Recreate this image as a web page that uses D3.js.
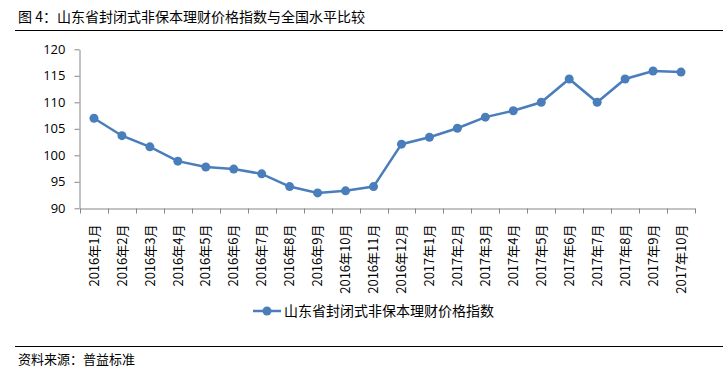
<!DOCTYPE html>
<html><head><meta charset="utf-8">
<script src="https://cdn.jsdelivr.net/npm/d3@7"></script>
<style>
html,body{margin:0;padding:0;background:#fff;}
svg{display:block;}
</style></head>
<body>
<svg id="c" width="728" height="372"></svg>
<script>
const title = "图 4：山东省封闭式非保本理财价格指数与全国水平比较";
const source = "资料来源：普益标准";
const seriesName = "山东省封闭式非保本理财价格指数";
const categories = ["2016年1月","2016年2月","2016年3月","2016年4月","2016年5月","2016年6月","2016年7月","2016年8月","2016年9月","2016年10月","2016年11月","2016年12月","2017年1月","2017年2月","2017年3月","2017年4月","2017年5月","2017年6月","2017年7月","2017年8月","2017年9月","2017年10月"];
const values = [107.0,103.7,101.6,98.9,97.8,97.4,96.5,94.1,92.9,93.3,94.1,102.1,103.4,105.1,107.2,108.4,110.0,114.4,110.0,114.4,115.9,115.7];
const yTicks = [90,95,100,105,110,115,120];

const svg = d3.select("#c");
const blue = "#4a7ebb";
const axisColor = "#868686";
const cjk = "'Noto Sans CJK SC', sans-serif";
const num = "'Open Sans','Noto Sans', sans-serif";

// title
svg.append("text").attr("x",18).attr("y",22).attr("font-family",cjk).attr("font-size",14).attr("fill","#000").text(title);
svg.append("line").attr("x1",15).attr("x2",723).attr("y1",30.5).attr("y2",30.5).attr("stroke","#000").attr("stroke-width",1.2);

const x = d3.scaleBand().domain(categories).range([80,695]);
const y = d3.scaleLinear().domain([90,120]).range([208.3,49.3]);

// y axis
const ya = svg.append("g").attr("transform","translate(79.5,0)")
  .call(d3.axisLeft(y).tickValues(yTicks).tickSize(5).tickPadding(9).tickSizeOuter(0));
ya.select(".domain").attr("stroke",axisColor);
ya.selectAll(".tick line").attr("stroke",axisColor);
ya.selectAll("text").attr("font-family",num).attr("font-size",13).attr("fill","#000");

// x axis
const xa = svg.append("g").attr("transform","translate(0,208.5)")
  .call(d3.axisBottom(x).tickSize(0).tickSizeOuter(0));
xa.select(".domain").attr("stroke",axisColor);
xa.selectAll(".tick text").remove();
const bounds = categories.map(c=>x(c)).concat([x(categories[categories.length-1])+x.bandwidth()]);
xa.selectAll(".sep").data(bounds).enter().append("line")
  .attr("x1",d=>Math.round(d)+0.5).attr("x2",d=>Math.round(d)+0.5).attr("y1",0).attr("y2",5)
  .attr("stroke",axisColor);
xa.selectAll(".lbl").data(categories).enter().append("text")
  .attr("transform",d=>`translate(${x(d)+x.bandwidth()/2},16) rotate(-90)`)
  .attr("text-anchor","end").attr("dy","0.36em")
  .attr("font-family",cjk).attr("font-size",13).attr("fill","#000")
  .text(d=>d);

// line
const line = d3.line().x((d,i)=>x(categories[i])+x.bandwidth()/2).y(d=>y(d));
svg.append("path").datum(values).attr("d",line).attr("fill","none").attr("stroke",blue).attr("stroke-width",2.5);
svg.selectAll(".pt").data(values).enter().append("circle")
  .attr("cx",(d,i)=>x(categories[i])+x.bandwidth()/2).attr("cy",d=>y(d)).attr("r",4.5).attr("fill",blue);

// legend
const lg = svg.append("g").attr("transform","translate(253,311)");
lg.append("line").attr("x1",0).attr("x2",28).attr("y1",0).attr("y2",0).attr("stroke",blue).attr("stroke-width",2.5);
lg.append("circle").attr("cx",14).attr("cy",0).attr("r",4.5).attr("fill",blue);
lg.append("text").attr("x",31).attr("y",5).attr("font-family",cjk).attr("font-size",14).attr("fill","#000").text(seriesName);

// footer
svg.append("line").attr("x1",15).attr("x2",723).attr("y1",346.5).attr("y2",346.5).attr("stroke","#000").attr("stroke-width",1.2);
svg.append("text").attr("x",18).attr("y",364).attr("font-family",cjk).attr("font-size",13).attr("fill","#000").text(source);
</script>
</body></html>
